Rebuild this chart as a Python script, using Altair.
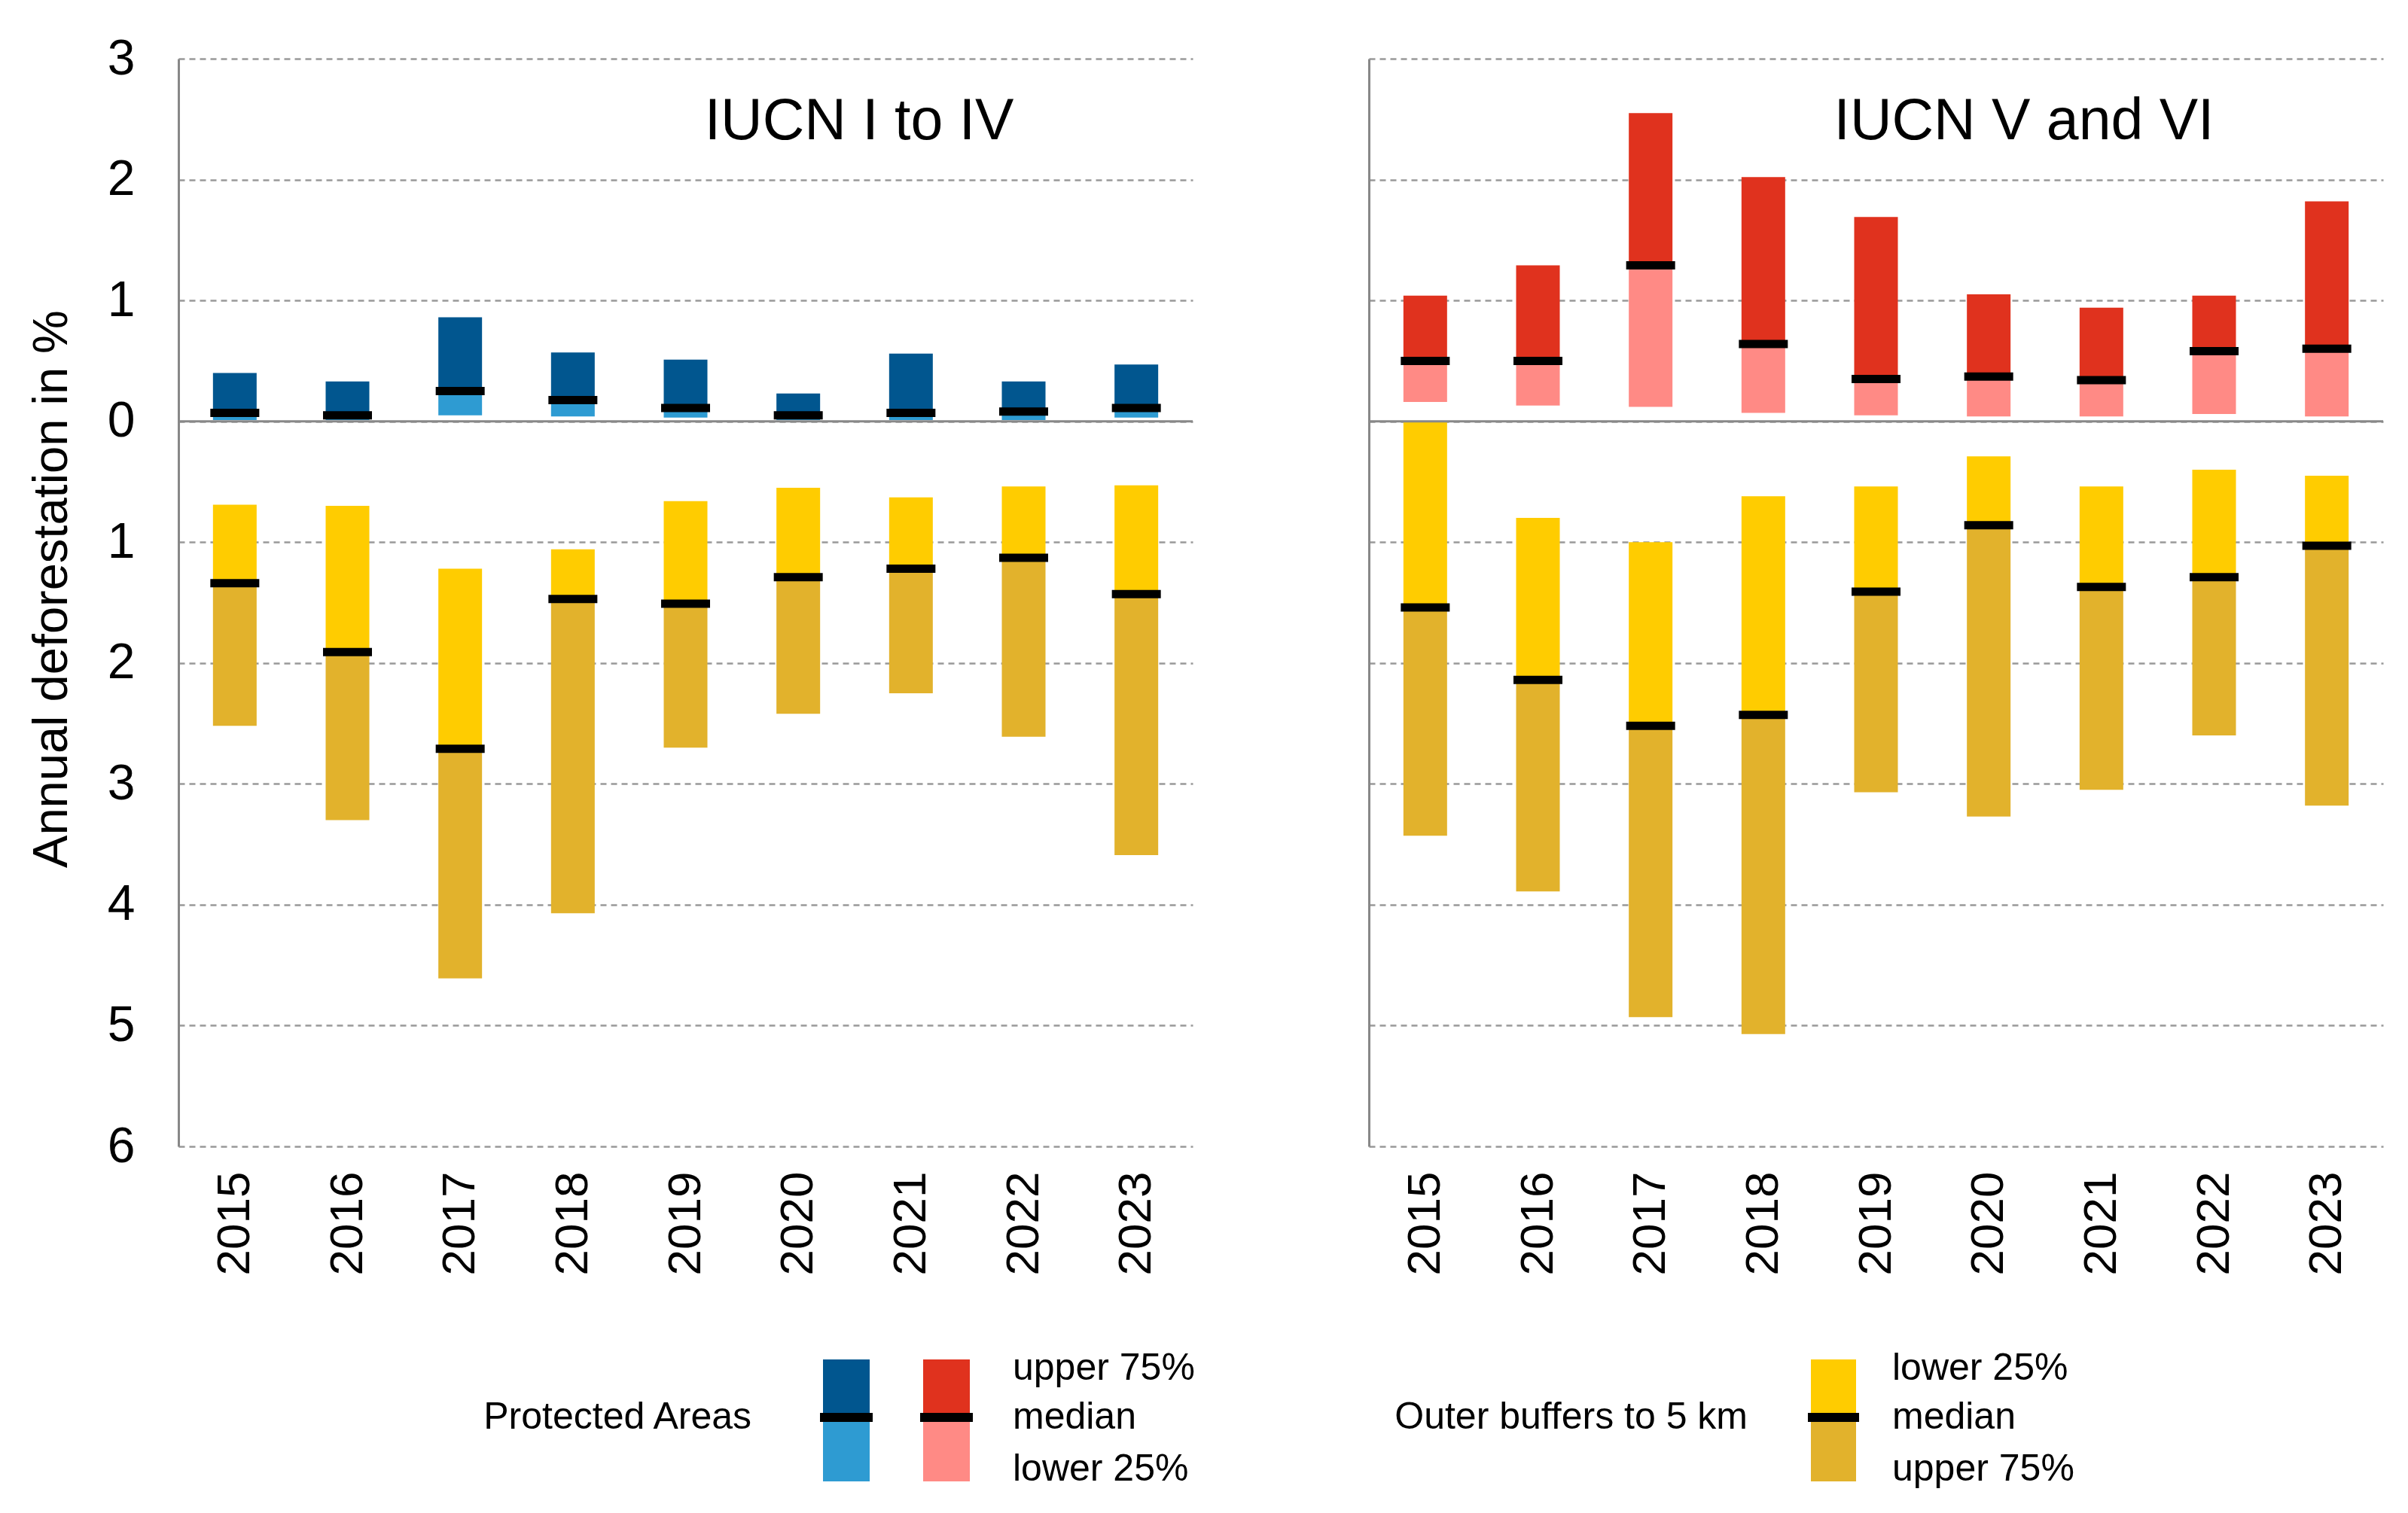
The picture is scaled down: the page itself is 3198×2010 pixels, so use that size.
import altair as alt
import pandas as pd

years = [str(y) for y in range(2015, 2024)]

# IUCN I to IV : protected areas quartiles (positive, upward)
pa1_low = [0.01, 0.01, 0.05, 0.04, 0.03, 0.01, 0.01, 0.01, 0.03]
pa1_med = [0.07, 0.05, 0.25, 0.175, 0.11, 0.05, 0.07, 0.08, 0.11]
pa1_high = [0.40, 0.33, 0.86, 0.57, 0.51, 0.23, 0.56, 0.33, 0.47]
# IUCN I to IV : outer buffers (drawn downward)
buf1_low = [0.69, 0.70, 1.22, 1.06, 0.66, 0.55, 0.63, 0.54, 0.53]
buf1_med = [1.34, 1.91, 2.71, 1.47, 1.51, 1.29, 1.22, 1.13, 1.43]
buf1_high = [2.52, 3.30, 4.61, 4.07, 2.70, 2.42, 2.25, 2.61, 3.59]

# IUCN V and VI : protected areas
pa2_low = [0.16, 0.13, 0.12, 0.07, 0.05, 0.04, 0.04, 0.06, 0.04]
pa2_med = [0.50, 0.50, 1.29, 0.64, 0.35, 0.37, 0.34, 0.58, 0.60]
pa2_high = [1.04, 1.29, 2.55, 2.02, 1.69, 1.05, 0.94, 1.04, 1.82]
# IUCN V and VI : outer buffers
buf2_low = [0.00, 0.80, 1.00, 0.62, 0.54, 0.29, 0.54, 0.40, 0.45]
buf2_med = [1.54, 2.14, 2.52, 2.43, 1.41, 0.86, 1.37, 1.29, 1.03]
buf2_high = [3.43, 3.89, 4.93, 5.07, 3.07, 3.27, 3.05, 2.60, 3.18]

y_ticks = [-6, -5, -4, -3, -2, -1, 0, 1, 2, 3]

DARK_BLUE = "#01568f"
LIGHT_BLUE = "#2e9bd2"
RED = "#e0321e"
PINK = "#ff8a85"
YELLOW = "#ffcc00"
GOLD = "#e2b22c"
FONT = "Liberation Sans"

W = 1347
H = 1445


def one():
    return pd.DataFrame({"k": [0]})


def legend_rect(x1, x2, y1, y2, color):
    return alt.Chart(one()).mark_rect(color=color).encode(
        x=alt.value(x1), x2=alt.value(x2), y=alt.value(y1), y2=alt.value(y2)
    )


def legend_text(txt, x, y, align, size=50):
    return alt.Chart(one()).mark_text(
        text=txt, align=align, baseline="middle", fontSize=size, font=FONT, color="black"
    ).encode(x=alt.value(x), y=alt.value(y))


def panel(low, med, high, blow, bmed, bhigh, c_up, c_lo, title, title_x, show_y, legend):
    rows = []
    for i, yr in enumerate(years):
        rows.append(dict(year=yr, lo=med[i], hi=high[i], col=c_up))
        rows.append(dict(year=yr, lo=low[i], hi=med[i], col=c_lo))
        rows.append(dict(year=yr, lo=-blow[i], hi=-bmed[i], col=YELLOW))
        rows.append(dict(year=yr, lo=-bmed[i], hi=-bhigh[i], col=GOLD))
    seg = pd.DataFrame(rows)
    meds = pd.DataFrame(dict(year=years * 2, m=list(med) + [-v for v in bmed]))

    xenc = alt.X(
        "year:N",
        scale=alt.Scale(paddingInner=0, paddingOuter=0),
        axis=alt.Axis(
            labelAngle=270, labelFontSize=62, labelPadding=33, domain=False,
            ticks=False, tickSize=0, grid=False, labelColor="black", labelFont=FONT,
            title=None,
        ),
    )
    yscale = alt.Scale(domain=[-6, 3], nice=False, zero=False)
    if show_y:
        yaxis = alt.Axis(
            values=y_ticks,
            labelExpr="abs(datum.value)",
            title="Annual deforestation in %",
            titleY=704,
        )
    else:
        yaxis = alt.Axis(values=y_ticks, labels=False, title=None)

    bars = alt.Chart(seg).mark_bar(size=58).encode(
        x=xenc,
        y=alt.Y("lo:Q", scale=yscale, axis=yaxis),
        y2="hi:Q",
        color=alt.Color("col:N", scale=None),
    )
    zero = alt.Chart(pd.DataFrame({"z": [0]})).mark_rule(color="#888888", strokeWidth=3).encode(
        y=alt.Y("z:Q", scale=yscale, axis=yaxis)
    )
    ticks = alt.Chart(meds).mark_tick(size=65, thickness=11, color="black", opacity=1).encode(
        x=xenc, y=alt.Y("m:Q", scale=yscale, axis=yaxis)
    )
    ttl = alt.Chart(one()).mark_text(
        text=title, align="center", baseline="alphabetic", fontSize=77, font=FONT, color="black"
    ).encode(x=alt.value(title_x), y=alt.value(107))

    return alt.layer(bars, zero, ticks, ttl, *legend).properties(width=W, height=H)


legend_left = [
    legend_text("Protected Areas", 761, 1805, "right"),
    legend_rect(856, 918, 1728, 1805, DARK_BLUE),
    legend_rect(856, 918, 1805, 1890, LIGHT_BLUE),
    legend_rect(989, 1051, 1728, 1805, RED),
    legend_rect(989, 1051, 1805, 1890, PINK),
    legend_rect(852, 922, 1799, 1811, "black"),
    legend_rect(985, 1055, 1799, 1811, "black"),
    legend_text("upper 75%", 1108, 1740, "left"),
    legend_text("median", 1108, 1805, "left"),
    legend_text("lower 25%", 1108, 1874, "left"),
]

legend_right = [
    legend_text("Outer buffers to 5 km", 503, 1805, "right"),
    legend_rect(587, 647, 1728, 1805, YELLOW),
    legend_rect(587, 647, 1805, 1890, GOLD),
    legend_rect(583, 651, 1799, 1811, "black"),
    legend_text("lower 25%", 695, 1740, "left"),
    legend_text("median", 695, 1805, "left"),
    legend_text("upper 75%", 695, 1874, "left"),
]

left = panel(pa1_low, pa1_med, pa1_high, buf1_low, buf1_med, buf1_high,
             DARK_BLUE, LIGHT_BLUE, "IUCN I to IV", 904, True, legend_left)
right = panel(pa2_low, pa2_med, pa2_high, buf2_low, buf2_med, buf2_high,
              RED, PINK, "IUCN V and VI", 870, False, legend_right)

chart = (
    alt.hconcat(left, right, spacing=229)
    .properties(padding={"left": 28, "top": 37, "right": 5, "bottom": 5})
    .configure(font=FONT)
    .configure_view(stroke=None)
    .configure_axisY(
        grid=True, gridColor="#999999", gridDash=[8, 6], gridWidth=2.5,
        domainColor="#888888", domainWidth=3, ticks=False, tickSize=0,
        labelFontSize=66, labelPadding=58, labelColor="black", labelFont=FONT,
        titleFontSize=65, titleFontWeight="normal", titlePadding=40,
        titleColor="black", titleFont=FONT,
    )
)

chart.save("out.html", embed_options={"renderer": "svg", "actions": False})
